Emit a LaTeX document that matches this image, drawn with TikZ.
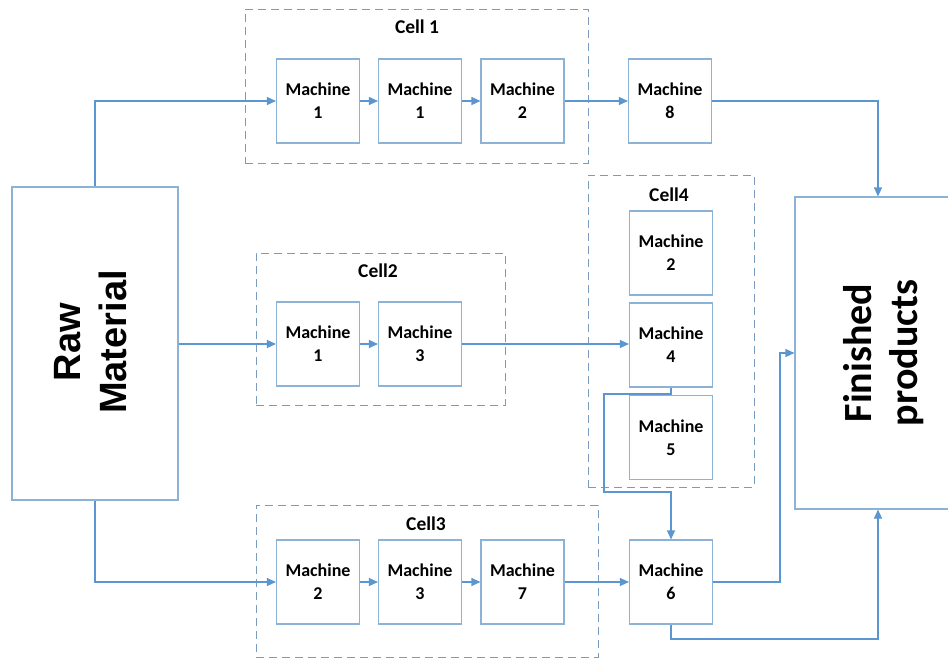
\documentclass[tikz,border=0pt]{standalone}
\usepackage{fontspec}
\setmainfont{Carlito}
\newfontfamily\arialf{Liberation Sans}
\usetikzlibrary{arrows.meta}
\definecolor{boxc}{RGB}{140,178,214}
\definecolor{arrc}{RGB}{91,150,208}
\definecolor{dashc}{RGB}{120,155,190}
\tikzset{
  machine/.style={draw=boxc, line width=1.1pt, minimum width=83pt, minimum height=84pt,
    inner sep=0pt, align=center, font=\fontsize{18}{23}\selectfont\bfseries},
  cellbox/.style={draw=dashc, line width=1pt, dash pattern=on 8pt off 5pt, inner sep=0pt},
  celltitle/.style={font=\fontsize{19.5}{22}\selectfont\bfseries, inner sep=0pt},
  bigbox/.style={draw=boxc, line width=1.1pt, inner sep=0pt},
  arr/.style={draw=arrc, line width=1.1pt, -{Triangle[width=8pt,length=9pt]}},
  ln/.style={draw=arrc, line width=1.1pt},
}
\begin{document}
\begin{tikzpicture}[x=1pt,y=-1pt]
\useasboundingbox (0,0) rectangle (948,659);
% cells
\node[cellbox, minimum width=343pt, minimum height=154pt] (cell1) at (416.5,86) {};
\node[celltitle] (t1) at (417,27) {Cell 1};
\node[cellbox, minimum width=249pt, minimum height=152pt] (cell2) at (380.5,329) {};
\node[celltitle] (t2) at (378,271) {Cell2};
\node[cellbox, minimum width=166pt, minimum height=312pt] (cell4) at (671,331) {};
\node[celltitle] (t4) at (669,195) {Cell4};
\node[cellbox, minimum width=342pt, minimum height=152pt] (cell3) at (427,581) {};
\node[celltitle] (t3) at (426,524) {Cell3};
% big boxes
\node[bigbox, minimum width=166pt, minimum height=313pt] (raw) at (95,343.5) {};
\node[font=\arialf\bfseries\fontsize{38}{46}\selectfont, rotate=90, align=center] (rawt) at (91,342) {Raw\\Material};
\node[bigbox, minimum width=166pt, minimum height=312pt] (fin) at (878,353) {};
\node[font=\fontsize{40}{46}\selectfont\bfseries, rotate=90, align=center] (fint) at (884,353) {Finished\\products};
% machines
\node[machine] (a1) at (318,101) {Machine\\1};
\node[machine] (a2) at (420,101) {Machine\\1};
\node[machine] (a3) at (522.5,101) {Machine\\2};
\node[machine] (m8) at (670,101) {Machine\\8};
\node[machine] (b1) at (318,344) {Machine\\1};
\node[machine] (b2) at (420,344) {Machine\\3};
\node[machine] (d2) at (671,253) {Machine\\2};
\node[machine] (d4) at (671,345) {Machine\\4};
\node[machine] (d5) at (671,437.5) {Machine\\5};
\node[machine] (c1) at (318,582) {Machine\\2};
\node[machine] (c2) at (420,582) {Machine\\3};
\node[machine] (c3) at (522.5,582) {Machine\\7};
\node[machine] (m6) at (671,582) {Machine\\6};
% helper coordinates
\coordinate (k1) at (604,394);
\coordinate (k2) at (604,492);
\coordinate (k3) at (780,353);
\coordinate (k4) at (671,639);
% connectors
\draw[arr] (raw.north) |- (a1.west);
\draw[arr] (a1) -- (a2);
\draw[arr] (a2) -- (a3);
\draw[arr] (a3) -- (m8);
\draw[arr] (m8.east) -| (fin.north);
\draw[arr] (raw.east |- b1.west) -- (b1.west);
\draw[arr] (b1) -- (b2);
\draw[arr] (b2.east) -- (b2.east -| d4.west);
\draw[arr] (raw.south) |- (c1.west);
\draw[arr] (c1) -- (c2);
\draw[arr] (c2) -- (c3);
\draw[arr] (c3) -- (m6);
\draw[arr] (d4.south) |- (k1) -- (k2) -| (m6.north);
\draw[arr] (m6.east) -| (k3) -- (fin.west);
\draw[arr] (m6.south) |- (k4) -| (fin.south);
\end{tikzpicture}
\end{document}
